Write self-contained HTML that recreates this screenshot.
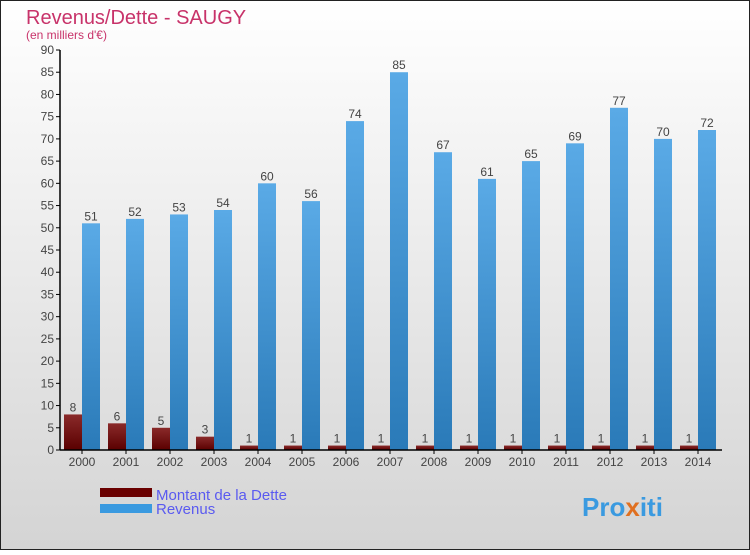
<!DOCTYPE html>
<html><head><meta charset="utf-8"><style>
body{margin:0}
#c{width:750px;height:550px;position:relative;font-family:"Liberation Sans",sans-serif}
</style></head><body>
<div id="c">
<svg id="s" width="750" height="550" xmlns="http://www.w3.org/2000/svg">
<defs>
<linearGradient id="bg" x1="0" y1="0" x2="0" y2="1"><stop offset="0" stop-color="#ffffff"/><stop offset="1" stop-color="#d4d4d4"/></linearGradient>
<linearGradient id="rev" x1="0" y1="0" x2="0" y2="1"><stop offset="0" stop-color="#5aaae6"/><stop offset="1" stop-color="#2a7ab8"/></linearGradient>
<linearGradient id="debt" x1="0" y1="0" x2="0" y2="1"><stop offset="0" stop-color="#8a2a2a"/><stop offset="1" stop-color="#5a0000"/></linearGradient>
</defs>
<rect x="0.5" y="0.5" width="749" height="549" fill="url(#bg)" stroke="#222"/>
<text x="26" y="24" font-size="20" fill="#c8336a">Revenus/Dette - SAUGY</text>
<text x="26" y="39" font-size="12" fill="#c8336a">(en milliers d'€)</text>
<g id="plot"></g>
<rect x="100" y="488" width="52" height="9" fill="#6a0000"/>
<text x="156" y="500" font-size="15" fill="#5a5af0">Montant de la Dette</text>
<rect x="100" y="504" width="52" height="9" fill="#3a9ae0"/>
<text x="156" y="514" font-size="15" fill="#5a5af0">Revenus</text>
<text x="582" y="516" font-size="26" font-weight="bold" fill="#3a9ae0">Pro<tspan fill="#e07020">x</tspan>iti</text>
</svg>
</div>
<script>
const years=["2000","2001","2002","2003","2004","2005","2006","2007","2008","2009","2010","2011","2012","2013","2014"];
const debt=[8,6,5,3,1,1,1,1,1,1,1,1,1,1,1];
const revenue=[51,52,53,54,60,56,74,85,67,61,65,69,77,70,72];
const yTicks=[0,5,10,15,20,25,30,35,40,45,50,55,60,65,70,75,80,85,90];
const NS="http://www.w3.org/2000/svg";
const g=document.getElementById('plot');
const y=v=>450-v*400/90;
const x=i=>82+i*44;
function el(t,a){const e=document.createElementNS(NS,t);for(const k in a)e.setAttribute(k,a[k]);g.appendChild(e);return e;}
yTicks.forEach(v=>{
 const t=el('line',{x1:56,x2:60,y1:y(v),y2:y(v),stroke:'#000'});
 
 
 const l=el('text',{x:54,y:y(v)+4,'font-size':12,fill:'#444','text-anchor':'end'});
 l.textContent=v;
 
 
});
years.forEach((yr,i)=>{
 const d=el('rect',{x:x(i)-18,y:y(debt[i]),width:18,height:450-y(debt[i]),fill:'url(#debt)'});
 
 
 const r=el('rect',{x:x(i),y:y(revenue[i]),width:18,height:450-y(revenue[i]),fill:'url(#rev)'});
 
 
 const dl=el('text',{x:x(i)-9,y:y(debt[i])-3,'font-size':12,fill:'#444','text-anchor':'middle'});
 dl.textContent=debt[i];
 
 
 const rl=el('text',{x:x(i)+9,y:y(revenue[i])-3,'font-size':12,fill:'#444','text-anchor':'middle'});
 rl.textContent=revenue[i];
 
 
 const xl=el('text',{x:x(i),y:466,'font-size':12,fill:'#444','text-anchor':'middle'});
 xl.textContent=yr;
 
 
 const xt=el('line',{x1:x(i),x2:x(i),y1:450,y2:454,stroke:'#000'});
 
 
});
const ya=el('line',{x1:60,x2:60,y1:50,y2:450,stroke:'#000','stroke-width':1.5});


const xa=el('line',{x1:60,x2:722,y1:450,y2:450,stroke:'#000','stroke-width':1.5});


</script>
</body></html>
